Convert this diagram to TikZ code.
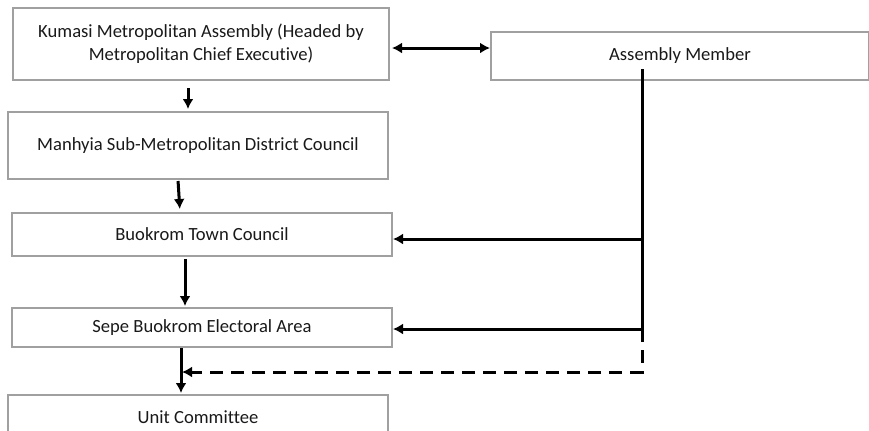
\documentclass[tikz,border=0pt]{standalone}
\usepackage{fontspec}
\setmainfont[Ligatures=NoCommon]{Carlito}
\usetikzlibrary{arrows.meta}
\definecolor{boxgray}{RGB}{160,160,160}

\begin{document}
\begin{tikzpicture}
[x=0.5pt,y=-0.5pt,%
  boxDecorate/.style={draw=boxgray,line width=1pt,inner sep=2pt,align=center,text=black!90,font=\fontsize{9.3}{11.5}\selectfont},%
  lineDecorate/.style={-{Latex[length=5pt,width=5.5pt]},line width=1.5pt},%
  twoDecorate/.style={{Latex[length=5pt,width=5.5pt]}-{Latex[length=5pt,width=5.5pt]},line width=1.5pt},%
  dashDecorate/.style={lineDecorate,dash pattern=on 6.5pt off 4pt}]
\useasboundingbox (0,0) rectangle (869,430);
%% boxes
\node[boxDecorate,minimum width=188pt,minimum height=36pt] (kma) at (201,44)
  {Kumasi Metropolitan Assembly (Headed by\\Metropolitan Chief Executive)};
\node[boxDecorate,minimum width=189pt,minimum height=24pt] (member) at (680,56) {Assembly Member};
\foreach \nodename/\x/\y/\h/\txt in {
  manhyia/198/145.5/33.5/Manhyia Sub-Metropolitan District Council,
  town/202/234.5/21.5/Buokrom Town Council,
  sepe/202/327.5/19.5/Sepe Buokrom Electoral Area,
  unit/198/417/22/Unit Committee}
{
  \node[boxDecorate,minimum width=190pt,minimum height=\h pt] (\nodename) at (\x,\y) {\txt};
}
%% points on the assembly member line
\coordinate (amTop) at (642,69);
\coordinate (amTown) at (642,239);
\coordinate (amSepe) at (642,329);
\coordinate (amEnd) at (642,372);
\coordinate (ucIn) at (182,372);
%% connect boxes
\path
(kma.south -| 188,0) edge[lineDecorate,shorten <=3.5pt,shorten >=1pt] (manhyia.north -| 188,0)
(manhyia.south -| 178,0) edge[lineDecorate,shorten <=0.5pt,shorten >=1.5pt] (town.north -| 180,0)
(town.south -| 185,0) edge[lineDecorate,shorten <=1pt,shorten >=0.5pt] (sepe.north -| 185,0)
(sepe.south -| 181,0) edge[lineDecorate,shorten >=0.5pt] (unit.north -| 181,0)
(kma.east |- 0,48) edge[twoDecorate,shorten <=1pt] (member.west |- 0,48);
%% assembly member to lower councils
\draw[line width=1.5pt] (amTop) -- (amTown);
\draw[lineDecorate] (amTown) -- (amSepe) -- (sepe.east |- amSepe);
\draw[lineDecorate] (amTown) -- (town.east |- amTown);
\draw[dashDecorate] (amSepe) -- (amEnd) -- (ucIn);
\end{tikzpicture}
\end{document}
